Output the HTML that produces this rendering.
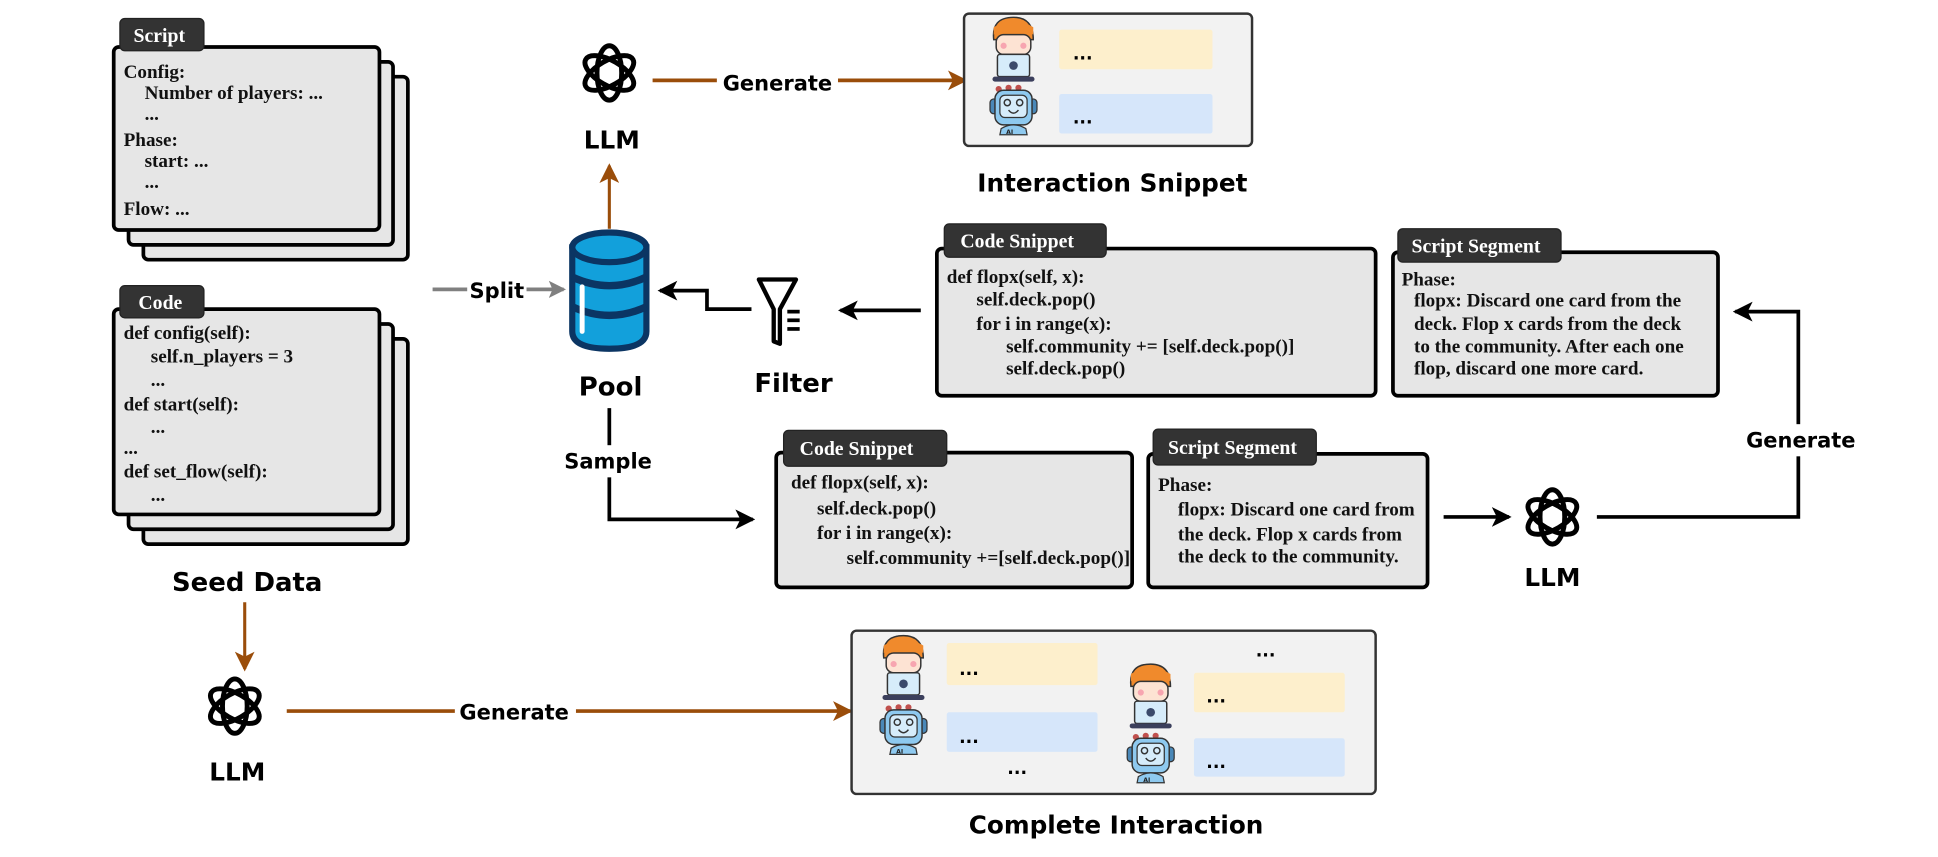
<!DOCTYPE html>
<html><head><meta charset="utf-8"><style>
html,body{margin:0;padding:0;background:#fff;}
svg{display:block;}
.code{font-family:"Liberation Serif",serif;font-weight:bold;font-size:15.5px;fill:#111;}
.tab{font-family:"Liberation Serif",serif;font-weight:bold;font-size:16px;fill:#fff;}
.lbl{font-family:"DejaVu Sans",sans-serif;font-weight:bold;fill:#000;}
</style></head><body>
<svg width="1938" height="857" viewBox="0 0 1568 693" preserveAspectRatio="none" xmlns="http://www.w3.org/2000/svg">
<defs>
<marker id="ab2" markerWidth="16" markerHeight="16" refX="14" refY="8" orient="auto" markerUnits="userSpaceOnUse"><path d="M0,0 L16,8 L0,16 L4,8z" fill="#000"/></marker>
<marker id="ao" markerWidth="16" markerHeight="16" refX="14" refY="8" orient="auto" markerUnits="userSpaceOnUse"><path d="M0,0 L16,8 L0,16 L4,8z" fill="#9a4d0a"/></marker>
<marker id="ag" markerWidth="14" markerHeight="14" refX="12" refY="7" orient="auto" markerUnits="userSpaceOnUse"><path d="M0,0 L14,7 L0,14 L3,7z" fill="#808080"/></marker>
<g id="llm" fill="none" stroke="#000" stroke-width="4">
<ellipse cx="0" cy="0" rx="22" ry="10" transform="rotate(30)"/>
<ellipse cx="0" cy="0" rx="22" ry="10" transform="rotate(90)"/>
<ellipse cx="0" cy="0" rx="22" ry="10" transform="rotate(150)"/>
</g>
<g id="human">
<path d="M-16,-8 Q-18,-26 0,-26 Q16,-26 16,-8 Z" fill="#f08a2c" stroke="#333" stroke-width="1.2"/>
<rect x="-14" y="-12" width="28" height="16" rx="6" fill="#fde3d3" stroke="#333" stroke-width="1.2"/>
<path d="M-16,-12 Q0,-20 16,-12 L16,-18 Q0,-28 -16,-18Z" fill="#f08a2c"/>
<circle cx="-8" cy="-3" r="2.5" fill="#f7a5b0"/><circle cx="8" cy="-3" r="2.5" fill="#f7a5b0"/>
<rect x="-13" y="4" width="26" height="18" rx="2" fill="#d6ecfa" stroke="#333" stroke-width="1.2"/>
<circle cx="0" cy="13" r="3.5" fill="#3b4a6b"/>
<rect x="-17" y="22" width="34" height="4" rx="2" fill="#3b3f5c"/>
</g>
<g id="robot">
<circle cx="-12" cy="-20" r="2.5" fill="#c0504d"/><circle cx="-4" cy="-21" r="2.5" fill="#c0504d"/><circle cx="4" cy="-21" r="2.5" fill="#c0504d"/>
<rect x="-19" y="-12" width="6" height="12" rx="3" fill="#4a88b8" stroke="#333" stroke-width="1"/>
<rect x="13" y="-12" width="6" height="12" rx="3" fill="#4a88b8" stroke="#333" stroke-width="1"/>
<rect x="-15" y="-19" width="30" height="28" rx="7" fill="#8ec9ef" stroke="#333" stroke-width="1.2"/>
<rect x="-11" y="-15" width="22" height="18" rx="4" fill="#d6ecfa" stroke="#333" stroke-width="1"/>
<circle cx="-5" cy="-9" r="2.5" fill="none" stroke="#333" stroke-width="1.2"/><circle cx="5" cy="-9" r="2.5" fill="none" stroke="#333" stroke-width="1.2"/>
<path d="M-4,-3 Q0,2 4,-3" fill="none" stroke="#333" stroke-width="1.2"/>
<path d="M-10,12 Q0,6 10,12 L11,17 L-11,17Z" fill="#8ec9ef" stroke="#333" stroke-width="1"/>
<text x="-6" y="16.5" font-family="DejaVu Sans" font-weight="bold" font-size="5" fill="#222">AI</text>
</g>
</defs>

<!-- Script stack -->
<rect x="116" y="62" width="214" height="148" rx="4" fill="#e6e6e6" stroke="#000" stroke-width="3"/>
<rect x="104" y="50" width="214" height="148" rx="4" fill="#e6e6e6" stroke="#000" stroke-width="3"/>
<rect x="92" y="38" width="215" height="148" rx="4" fill="#e6e6e6" stroke="#000" stroke-width="3"/>
<rect x="97" y="15" width="68" height="26" rx="4" fill="#333" stroke="#222"/>
<text class="tab" x="108" y="34">Script</text>
<g class="code">
<text x="100" y="63">Config:</text>
<text x="117" y="80">Number of players: ...</text>
<text x="117" y="97">...</text>
<text x="100" y="118">Phase:</text>
<text x="117" y="135">start: ...</text>
<text x="117" y="152">...</text>
<text x="100" y="174">Flow: ...</text>
</g>

<!-- Code stack -->
<rect x="116" y="274" width="214" height="166" rx="4" fill="#e6e6e6" stroke="#000" stroke-width="3"/>
<rect x="104" y="262" width="214" height="166" rx="4" fill="#e6e6e6" stroke="#000" stroke-width="3"/>
<rect x="92" y="250" width="215" height="166" rx="4" fill="#e6e6e6" stroke="#000" stroke-width="3"/>
<rect x="97" y="231" width="68" height="26" rx="4" fill="#333" stroke="#222"/>
<text class="tab" x="112" y="250">Code</text>
<g class="code">
<text x="100" y="274">def config(self):</text>
<text x="122" y="293">self.n_players = 3</text>
<text x="122" y="312">...</text>
<text x="100" y="332">def start(self):</text>
<text x="122" y="350">...</text>
<text x="100" y="367">...</text>
<text x="100" y="386">def set_flow(self):</text>
<text x="122" y="405">...</text>
</g>
<text class="lbl" x="200" y="478" font-size="21" text-anchor="middle">Seed Data</text>

<!-- Seed -> LLM -->
<line x1="198" y1="487" x2="198" y2="541" stroke="#9a4d0a" stroke-width="2.5" marker-end="url(#ao)"/>
<use href="#llm" x="190" y="571"/>
<text class="lbl" x="192" y="631" font-size="20" text-anchor="middle">LLM</text>
<line x1="232" y1="575" x2="688" y2="575" stroke="#9a4d0a" stroke-width="3" marker-end="url(#ao)"/>
<rect x="368" y="563" width="98" height="22" fill="#fff"/>
<text class="lbl" x="416" y="582" font-size="17" text-anchor="middle">Generate</text>

<!-- Complete interaction -->
<rect x="689" y="510" width="424" height="132" rx="4" fill="#f2f2f2" stroke="#333" stroke-width="2"/>
<use href="#human" x="731" y="540"/>
<use href="#robot" x="731" y="593"/>
<rect x="766" y="520" width="122" height="34" rx="2" fill="#fdefcc"/>
<rect x="766" y="576" width="122" height="32" rx="2" fill="#d6e6fa"/>
<text class="lbl" x="776" y="546" font-size="14">...</text>
<text class="lbl" x="776" y="601" font-size="14">...</text>
<text class="lbl" x="815" y="626" font-size="14">...</text>
<text class="lbl" x="1016" y="531" font-size="14">...</text>
<use href="#human" x="931" y="563"/>
<use href="#robot" x="931" y="616"/>
<rect x="966" y="544" width="122" height="32" rx="2" fill="#fdefcc"/>
<rect x="966" y="597" width="122" height="31" rx="2" fill="#d6e6fa"/>
<text class="lbl" x="976" y="568" font-size="14">...</text>
<text class="lbl" x="976" y="621" font-size="14">...</text>
<text class="lbl" x="903" y="674" font-size="20" text-anchor="middle">Complete Interaction</text>

<!-- Top LLM -->
<use href="#llm" x="493" y="59"/>
<text class="lbl" x="495" y="120" font-size="20" text-anchor="middle">LLM</text>
<line x1="493" y1="185" x2="493" y2="134" stroke="#9a4d0a" stroke-width="2.5" marker-end="url(#ao)"/>
<line x1="528" y1="65" x2="781" y2="65" stroke="#9a4d0a" stroke-width="3" marker-end="url(#ao)"/>
<rect x="580" y="54" width="98" height="22" fill="#fff"/>
<text class="lbl" x="629" y="73" font-size="17" text-anchor="middle">Generate</text>

<!-- Interaction snippet -->
<rect x="780" y="11" width="233" height="107" rx="4" fill="#f2f2f2" stroke="#333" stroke-width="2"/>
<use href="#human" x="820" y="40"/>
<use href="#robot" x="820" y="92"/>
<rect x="857" y="24" width="124" height="32" rx="2" fill="#fdefcc"/>
<rect x="857" y="76" width="124" height="32" rx="2" fill="#d6e6fa"/>
<text class="lbl" x="868" y="48" font-size="14">...</text>
<text class="lbl" x="868" y="100" font-size="14">...</text>
<text class="lbl" x="900" y="155" font-size="20" text-anchor="middle">Interaction Snippet</text>

<!-- Pool -->
<g>
<path d="M463,200 L463,268 Q463,282 493,282 Q523,282 523,268 L523,200 Z" fill="#12a0db" stroke="#0b3563" stroke-width="5"/>
<ellipse cx="493" cy="200" rx="30" ry="12" fill="#12a0db" stroke="#0b3563" stroke-width="5"/>
<path d="M463,224 Q493,238 523,224" fill="none" stroke="#0b3563" stroke-width="6"/>
<path d="M463,248 Q493,262 523,248" fill="none" stroke="#0b3563" stroke-width="6"/>
<line x1="471" y1="232" x2="471" y2="268" stroke="#fff" stroke-width="4" stroke-linecap="round"/>
</g>
<text class="lbl" x="494" y="320" font-size="21" text-anchor="middle">Pool</text>
<line x1="350" y1="234" x2="456" y2="234" stroke="#808080" stroke-width="3" marker-end="url(#ag)"/>
<rect x="378" y="222" width="48" height="24" fill="#fff"/>
<text class="lbl" x="402" y="241" font-size="17" text-anchor="middle">Split</text>

<!-- Filter -->
<path d="M614,226 L644,226 L631,250 L631,278 L626,276 L626,250 Z" fill="#fff" stroke="#000" stroke-width="3.5" stroke-linejoin="round"/>
<line x1="637" y1="252" x2="647" y2="252" stroke="#000" stroke-width="3"/>
<line x1="637" y1="259" x2="647" y2="259" stroke="#000" stroke-width="3"/>
<line x1="637" y1="266" x2="647" y2="266" stroke="#000" stroke-width="3"/>
<text class="lbl" x="642" y="317" font-size="21" text-anchor="middle">Filter</text>
<polyline points="608,250 572,250 572,235 534,235" fill="none" stroke="#000" stroke-width="3" marker-end="url(#ab2)"/>
<line x1="745" y1="251" x2="680" y2="251" stroke="#000" stroke-width="3" marker-end="url(#ab2)"/>

<!-- Top code snippet -->
<rect x="758" y="201" width="355" height="119" rx="4" fill="#e6e6e6" stroke="#000" stroke-width="3"/>
<rect x="764" y="181" width="131" height="27" rx="4" fill="#333" stroke="#222"/>
<text class="tab" x="777" y="200">Code Snippet</text>
<g class="code">
<text x="766" y="229">def flopx(self, x):</text>
<text x="790" y="247">self.deck.pop()</text>
<text x="790" y="267">for i in range(x):</text>
<text x="814" y="285">self.community += [self.deck.pop()]</text>
<text x="814" y="303">self.deck.pop()</text>
</g>

<!-- Top script segment -->
<rect x="1127" y="204" width="263" height="116" rx="4" fill="#e6e6e6" stroke="#000" stroke-width="3"/>
<rect x="1131" y="185" width="132" height="27" rx="4" fill="#333" stroke="#222"/>
<text class="tab" x="1142" y="204">Script Segment</text>
<g class="code">
<text x="1134" y="231">Phase:</text>
<text x="1144" y="248">flopx: Discard one card from the</text>
<text x="1144" y="267">deck. Flop x cards from the deck</text>
<text x="1144" y="285">to the community. After each one</text>
<text x="1144" y="303">flop, discard one more card.</text>
</g>

<!-- Right generate loop -->
<polyline points="1292,418 1455,418 1455,252 1404,252" fill="none" stroke="#000" stroke-width="3" marker-end="url(#ab2)"/>
<rect x="1405" y="343" width="100" height="26" fill="#fff"/>
<text class="lbl" x="1457" y="362" font-size="17" text-anchor="middle">Generate</text>
<use href="#llm" x="1256" y="418"/>
<text class="lbl" x="1256" y="474" font-size="20" text-anchor="middle">LLM</text>
<line x1="1168" y1="418" x2="1221" y2="418" stroke="#000" stroke-width="3" marker-end="url(#ab2)"/>

<!-- Bottom code snippet -->
<rect x="628" y="366" width="288" height="109" rx="4" fill="#e6e6e6" stroke="#000" stroke-width="3"/>
<rect x="634" y="348" width="132" height="29" rx="4" fill="#333" stroke="#222"/>
<text class="tab" x="647" y="368">Code Snippet</text>
<g class="code">
<text x="640" y="395">def flopx(self, x):</text>
<text x="661" y="416">self.deck.pop()</text>
<text x="661" y="436">for i in range(x):</text>
<text x="685" y="456">self.community +=[self.deck.pop()]</text>
</g>

<!-- Bottom script segment -->
<rect x="929" y="367" width="226" height="108" rx="4" fill="#e6e6e6" stroke="#000" stroke-width="3"/>
<rect x="933" y="347" width="132" height="29" rx="4" fill="#333" stroke="#222"/>
<text class="tab" x="945" y="367">Script Segment</text>
<g class="code">
<text x="937" y="397">Phase:</text>
<text x="953" y="417">flopx: Discard one card from</text>
<text x="953" y="437">the deck. Flop x cards from</text>
<text x="953" y="455">the deck to the community.</text>
</g>

<!-- Sample -->
<polyline points="493,330 493,420 609,420" fill="none" stroke="#000" stroke-width="3" marker-end="url(#ab2)"/>
<rect x="455" y="360" width="76" height="26" fill="#fff"/>
<text class="lbl" x="492" y="379" font-size="17" text-anchor="middle">Sample</text>
</svg>
</body></html>
